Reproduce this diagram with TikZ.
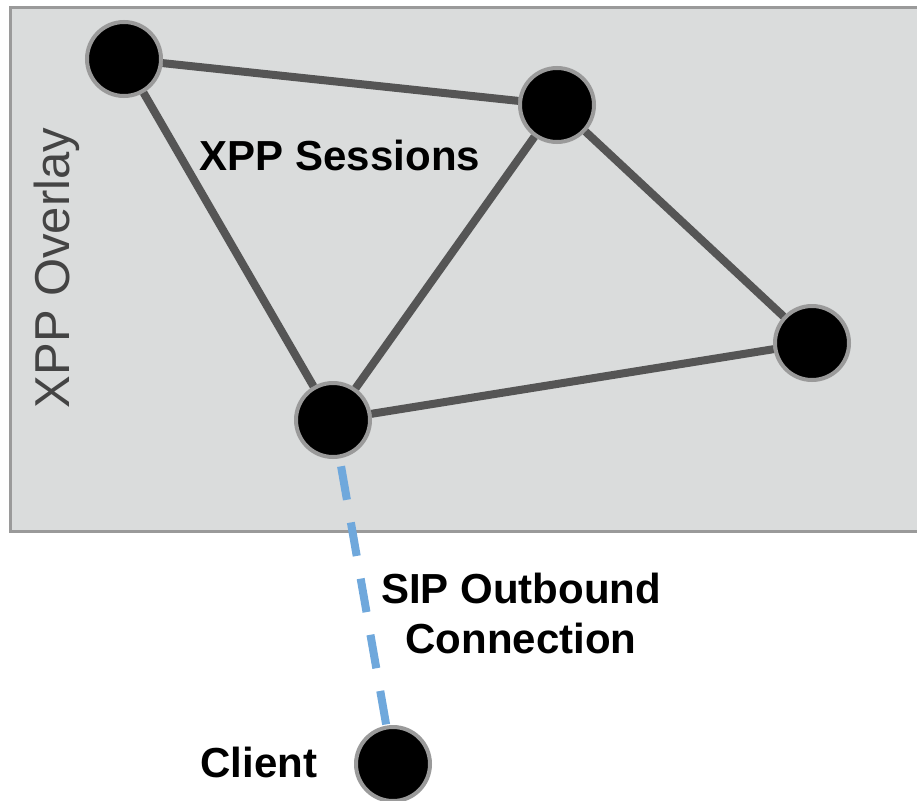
\documentclass[tikz,border=0pt]{standalone}
\usepackage{fontspec}
\setmainfont{Liberation Sans}
\definecolor{panelfill}{HTML}{DADCDC}
\definecolor{panelline}{HTML}{9A9A9A}
\definecolor{edgecol}{HTML}{555555}
\definecolor{sipblue}{HTML}{6FA8DC}
\definecolor{overlaytext}{HTML}{444444}
\tikzset{
  peer/.style={circle, fill=black, draw=panelline, line width=4pt, minimum size=74pt, inner sep=0pt},
  session/.style={draw=edgecol, line width=8pt},
  sipline/.style={draw=sipblue, line width=8pt, dash pattern=on 34pt off 23pt, shorten <=8pt},
  lbl/.style={font=\fontsize{42}{50}\selectfont\bfseries, text=black, align=center, inner sep=0pt}
}
\begin{document}
\begin{tikzpicture}[x=1pt, y=-1pt]
\useasboundingbox (0,0) rectangle (917,800);
\clip (0,0) rectangle (917,800);
\draw[fill=panelfill, draw=panelline, line width=3pt] (10,8) rectangle (930,531);
\node[peer] (a) at (124,59) {};
\node[peer] (b) at (557,105) {};
\node[peer] (c) at (812,343) {};
\node[peer] (d) at (333,420) {};
\node[peer] (e) at (393,764) {};
\draw[session] (a) -- (b);
\draw[session] (b) -- (c);
\draw[session] (a) -- (d);
\draw[session] (b) -- (d);
\draw[session] (d) -- (c);
\draw[sipline] (d) -- (e);
\node[font=\fontsize{49}{56}\selectfont, text=overlaytext, rotate=90, inner sep=0pt] (ov) at (57,268) {XPP Overlay};
\node[lbl] (xs) at (340,155) {XPP Sessions};
\node[lbl] (sip) at (521,613) {SIP Outbound\\Connection};
\node[lbl] (cl) at (259,762) {Client};
\end{tikzpicture}
\end{document}
